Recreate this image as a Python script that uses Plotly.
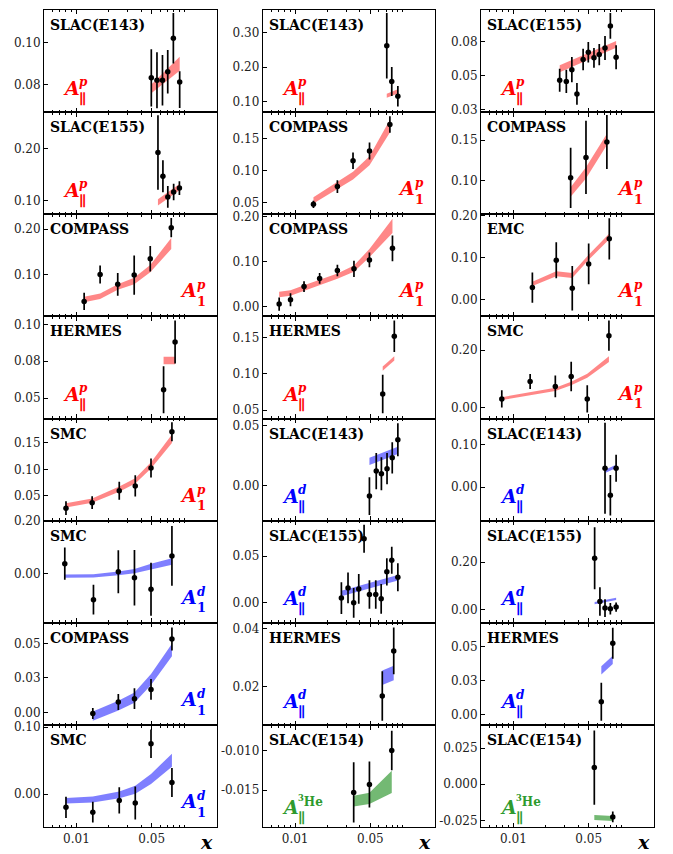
import math
import plotly.graph_objects as go

# ------------------------------------------------------------------ data
# (1,1) SLAC(E143) A_par^p
p1_x = [0.0496, 0.056, 0.063, 0.0705, 0.0795, 0.091]
p1_y = [0.0833, 0.0822, 0.0822, 0.0862, 0.1021, 0.0813]
p1_ep = [0.0136, 0.0133, 0.0120, 0.0103, 0.0120, 0.0052]
p1_em = [0.0136, 0.0133, 0.0120, 0.0103, 0.0120, 0.0123]
p1_band = [0.0781, 0.0805, 0.0828, 0.0850, 0.0874, 0.0900]
p1_bw = [0.0021, 0.0023, 0.0026, 0.0028, 0.0030, 0.0033]

# (1,2) SLAC(E143) A_par^p
p2_x = [0.071, 0.079, 0.09]
p2_y = [0.2625, 0.159, 0.116]
p2_e = [0.095, 0.042, 0.030]
p2_band = [0.1176, 0.123, 0.130]
p2_bw = [0.006, 0.006, 0.006]

# (1,3) SLAC(E155) A_par^p
p3_x = [0.0269, 0.0310, 0.0349, 0.0389, 0.0444, 0.0496, 0.0560, 0.0627, 0.0709, 0.0795, 0.0899]
p3_y = [0.0514, 0.0506, 0.0592, 0.0414, 0.0667, 0.0720, 0.0679, 0.0703, 0.0752, 0.0914, 0.0683]
p3_e = [0.0085, 0.0085, 0.0093, 0.0080, 0.0079, 0.0075, 0.0072, 0.0078, 0.0088, 0.0095, 0.0088]
p3_band = [0.0599, 0.0620, 0.0637, 0.0654, 0.0673, 0.0690, 0.0708, 0.0724, 0.0743, 0.0760, 0.0778]
p3_bw = [0.0025] * 11

# (2,1) SLAC(E155) A_par^p
p4_x = [0.0572, 0.0636, 0.0706, 0.0800, 0.0905]
p4_y = [0.1924, 0.1466, 0.1065, 0.1160, 0.1237]
p4_e = [0.072, 0.031, 0.021, 0.016, 0.0134]
p4_band = [0.096, 0.1028, 0.1095, 0.1176, 0.1255]
p4_bw = [0.006] * 5

# (2,2) COMPASS A_1^p
p5_x = [0.0148, 0.0247, 0.0345, 0.0491, 0.0759]
p5_y = [0.0474, 0.0752, 0.1155, 0.131, 0.1723]
p5_e = [0.0057, 0.010, 0.013, 0.0134, 0.0129]
p5_band = [0.0536, 0.0768, 0.0923, 0.1155, 0.1697]
p5_bw = [0.005, 0.005, 0.006, 0.007, 0.010]

# (2,3) COMPASS A_1^p
p6_x = [0.034, 0.0472, 0.0738]
p6_y = [0.1033, 0.1287, 0.1479]
p6_e = [0.0375, 0.0455, 0.0336]
p6_band = [0.0857, 0.1095, 0.151]
p6_bw = [0.006, 0.007, 0.007]

# (3,1) COMPASS A_1^p
p7_x = [0.0118, 0.0166, 0.0242, 0.0344, 0.0485, 0.076]
p7_y = [0.0407, 0.100, 0.0783, 0.0986, 0.1348, 0.203]
p7_e = [0.019, 0.020, 0.025, 0.043, 0.028, 0.021]
p7_band = [0.045, 0.052, 0.0726, 0.0856, 0.113, 0.168]
p7_bw = [0.006, 0.006, 0.006, 0.007, 0.008, 0.012]

# (3,2) COMPASS A_1^p
p8_x = [0.00711, 0.00906, 0.0121, 0.0169, 0.0247, 0.0352, 0.049, 0.0802]
p8_y = [0.0051, 0.0148, 0.0442, 0.0625, 0.0801, 0.0839, 0.1038, 0.1296]
p8_e = [0.0147, 0.0143, 0.012, 0.012, 0.0129, 0.018, 0.0166, 0.029]
p8_band = [0.0265, 0.030, 0.0412, 0.053, 0.0677, 0.0846, 0.119, 0.180]
p8_bw = [0.006, 0.006, 0.006, 0.006, 0.006, 0.007, 0.009, 0.016]

# (3,3) EMC A_1^p
p9_x = [0.015, 0.025, 0.0352, 0.05, 0.0777]
p9_y = [0.029, 0.094, 0.0273, 0.0854, 0.145]
p9_e = [0.036, 0.043, 0.053, 0.0486, 0.049]
p9_band = [0.038, 0.062, 0.058, 0.101, 0.151]
p9_bw = [0.005, 0.006, 0.006, 0.006, 0.007]

# (4,1) HERMES A_par^p
p10_x = [0.0645, 0.0825]
p10_y = [0.0556, 0.0881]
p10_e = [0.016, 0.0146]
p10_band = [0.0755, 0.0755]
p10_bw = [0.0025, 0.0025]

# (4,2) HERMES A_par^p
p11_x = [0.0651, 0.0834]
p11_y = [0.0722, 0.1518]
p11_e = [0.0266, 0.0216]
p11_band = [0.1072, 0.1213]
p11_bw = [0.003, 0.003]

# (4,3) SMC A_1^p
p12_x = [0.0078, 0.0143, 0.0245, 0.0344, 0.0485, 0.0771]
p12_y = [0.031, 0.0916, 0.0744, 0.1087, 0.031, 0.2504]
p12_e = [0.030, 0.026, 0.038, 0.051, 0.047, 0.0526]
p12_band = [0.032, 0.049, 0.064, 0.0847, 0.111, 0.169]
p12_bw = [0.005, 0.005, 0.006, 0.006, 0.007, 0.010]

# (5,1) SMC A_1^p
p13_x = [0.0080, 0.0140, 0.025, 0.0352, 0.0493, 0.0771]
p13_y = [0.0264, 0.0369, 0.0594, 0.0687, 0.1024, 0.1712]
p13_e = [0.013, 0.012, 0.017, 0.020, 0.018, 0.018]
p13_band = [0.032, 0.0406, 0.0625, 0.078, 0.1075, 0.158]
p13_bw = [0.004, 0.004, 0.005, 0.005, 0.006, 0.008]

# (5,2) SLAC(E143) A_par^d
p14_x = [0.049, 0.0567, 0.0633, 0.0714, 0.0798, 0.090]
p14_y = [-0.0089, 0.0121, 0.0099, 0.0141, 0.0232, 0.0384]
p14_e = [0.0158, 0.0152, 0.0138, 0.0131, 0.0131, 0.0138]
p14_band = [0.0202, 0.0224, 0.0241, 0.0260, 0.0277, 0.0295]
p14_bw = [0.003] * 6

# (5,3) SLAC(E143) A_par^d
p15_x = [0.0709, 0.0795, 0.0899]
p15_y = [0.0445, -0.0194, 0.0445]
p15_e = [0.108, 0.048, 0.032]
p15_band = [0.037, 0.043, 0.049]
p15_bw = [0.004, 0.004, 0.004]

# (6,1) SMC A_1^d
p16_x = [0.0078, 0.0144, 0.0245, 0.0346, 0.0493, 0.0771]
p16_y = [0.0388, -0.097, 0.0085, -0.0145, -0.058, 0.068]
p16_e = [0.061, 0.056, 0.081, 0.105, 0.100, 0.113]
p16_band = [-0.0085, -0.0073, 0.0025, 0.011, 0.028, 0.047]
p16_bw = [0.006, 0.006, 0.007, 0.008, 0.010, 0.012]

# (6,2) SLAC(E155) A_par^d
p17_x = [0.0269, 0.031, 0.035, 0.039, 0.0437, 0.049, 0.0561, 0.063, 0.0711, 0.079, 0.09]
p17_y = [0.005, 0.0159, 0.0, 0.0148, 0.0684, 0.0088, 0.0088, 0.0042, 0.0331, 0.0455, 0.0272]
p17_e = [0.017, 0.0164, 0.0159, 0.0159, 0.015, 0.0153, 0.0153, 0.0159, 0.0146, 0.0145, 0.015]
p17_band = [0.0099, 0.0119, 0.0136, 0.0151, 0.0167, 0.0183, 0.0202, 0.0218, 0.0235, 0.0250, 0.0268]
p17_bw = [0.003] * 11

# (6,3) SLAC(E155) A_par^d
p18_x = [0.0568, 0.0636, 0.0709, 0.0795, 0.0899]
p18_y = [0.2153, 0.0345, 0.007, 0.004, 0.011]
p18_e = [0.13, 0.06, 0.037, 0.024, 0.019]
p18_band = [0.0277, 0.0321, 0.0363, 0.0407, 0.0455]
p18_bw = [0.005] * 5

# (7,1) COMPASS A_1^d
p19_x = [0.0142, 0.0245, 0.0346, 0.0493, 0.0771]
p19_y = [-0.0007, 0.0076, 0.010, 0.0167, 0.0531]
p19_e = [0.0039, 0.0057, 0.0075, 0.0075, 0.0083]
p19_band = [-0.0026, 0.005, 0.0107, 0.0238, 0.0452]
p19_bw = [0.0033, 0.0035, 0.0037, 0.004, 0.0045]

# (7,2) HERMES A_par^d
p20_x = [0.0645, 0.0824]
p20_y = [0.0168, 0.0323]
p20_e = [0.0085, 0.008]
p20_band = [0.0231, 0.0247]
p20_bw = [0.0025, 0.0025]

# (7,3) HERMES A_par^d
p21_x = [0.0655, 0.0837]
p21_y = [0.0096, 0.0524]
p21_e = [0.0139, 0.0114]
p21_band = [0.0326, 0.0403]
p21_bw = [0.003, 0.003]

# (8,1) SMC A_1^d
p22_x = [0.0080, 0.0142, 0.025, 0.0352, 0.0493, 0.0771]
p22_y = [-0.0197, -0.027, -0.0093, -0.0133, 0.0753, 0.0173]
p22_e = [0.0158, 0.0155, 0.0197, 0.0246, 0.0214, 0.0217]
p22_band = [-0.0098, -0.0078, -0.0009, 0.0065, 0.0227, 0.0508]
p22_bw = [0.0042, 0.0045, 0.005, 0.006, 0.0075, 0.0098]

# (8,2) SLAC(E154) A_par^3He
p23_x = [0.035, 0.049, 0.079]
p23_y = [-0.0153, -0.0143, -0.0100]
p23_e = [0.0038, 0.0029, 0.0025]
p23_band = [-0.0164, -0.01605, -0.01396]
p23_bw = [0.00067, 0.0007, 0.0014]

# (8,3) SLAC(E154) A_par^3He
p24_x = [0.0564, 0.0837]
p24_y = [0.0116, -0.0226]
p24_e = [0.0257, 0.0037]
p24_band = [-0.023, -0.0237]
p24_bw = [0.0017, 0.0017]

x_tickvals = [0.01, 0.05]
x_ticktext = ["0.01", "0.05"]
x_minor = [0.006, 0.007, 0.008, 0.009, 0.02, 0.03, 0.04, 0.06, 0.07, 0.08, 0.09, 0.1]

panels = [
    dict(r=1, c=1, title="SLAC(E143)", kind="par", tgt="p", x=p1_x, y=p1_y, ep=p1_ep, em=p1_em, bc=p1_band, bw=p1_bw, yr=[0.067, 0.1156], tv=[0.08, 0.10], tt=["0.08", "0.10"]),
    dict(r=1, c=2, title="SLAC(E143)", kind="par", tgt="p", x=p2_x, y=p2_y, ep=p2_e, em=p2_e, bc=p2_band, bw=p2_bw, yr=[0.070, 0.366], tv=[0.1, 0.2, 0.3], tt=["0.10", "0.20", "0.30"]),
    dict(r=1, c=3, title="SLAC(E155)", kind="par", tgt="p", x=p3_x, y=p3_y, ep=p3_e, em=p3_e, bc=p3_band, bw=p3_bw, yr=[0.028, 0.1031], tv=[0.03, 0.055, 0.08], tt=["0.03", "0.05", "0.08"]),
    dict(r=2, c=1, title="SLAC(E155)", kind="par", tgt="p", x=p4_x, y=p4_y, ep=p4_e, em=p4_e, bc=p4_band, bw=p4_bw, yr=[0.073, 0.2706], tv=[0.1, 0.2], tt=["0.10", "0.20"]),
    dict(r=2, c=2, title="COMPASS", kind="one", tgt="p", x=p5_x, y=p5_y, ep=p5_e, em=p5_e, bc=p5_band, bw=p5_bw, yr=[0.0317, 0.1918], tv=[0.05, 0.10, 0.15], tt=["0.05", "0.10", "0.15"]),
    dict(r=2, c=3, title="COMPASS", kind="one", tgt="p", x=p6_x, y=p6_y, ep=p6_e, em=p6_e, bc=p6_band, bw=p6_bw, yr=[0.058, 0.185], tv=[0.10, 0.15], tt=["0.10", "0.15"]),
    dict(r=3, c=1, title="COMPASS", kind="one", tgt="p", x=p7_x, y=p7_y, ep=p7_e, em=p7_e, bc=p7_band, bw=p7_bw, yr=[0.0076, 0.2324], tv=[0.1, 0.2], tt=["0.10", "0.20"]),
    dict(r=3, c=2, title="COMPASS", kind="one", tgt="p", x=p8_x, y=p8_y, ep=p8_e, em=p8_e, bc=p8_band, bw=p8_bw, yr=[-0.0225, 0.2057], tv=[0, 0.1, 0.2], tt=["0.00", "0.10", "0.20"]),
    dict(r=3, c=3, title="EMC", kind="one", tgt="p", x=p9_x, y=p9_y, ep=p9_e, em=p9_e, bc=p9_band, bw=p9_bw, yr=[-0.0398, 0.2035], tv=[0, 0.1, 0.2], tt=["0.00", "0.10", "0.20"]),
    dict(r=4, c=1, title="HERMES", kind="par", tgt="p", x=p10_x, y=p10_y, ep=p10_e, em=p10_e, bc=p10_band, bw=p10_bw, yr=[0.036, 0.1054], tv=[0.05, 0.075, 0.10], tt=["0.05", "0.08", "0.10"]),
    dict(r=4, c=2, title="HERMES", kind="par", tgt="p", x=p11_x, y=p11_y, ep=p11_e, em=p11_e, bc=p11_band, bw=p11_bw, yr=[0.0383, 0.179], tv=[0.05, 0.10, 0.15], tt=["0.05", "0.10", "0.15"]),
    dict(r=4, c=3, title="SMC", kind="one", tgt="p", x=p12_x, y=p12_y, ep=p12_e, em=p12_e, bc=p12_band, bw=p12_bw, yr=[-0.0374, 0.317], tv=[0, 0.2], tt=["0.00", "0.20"]),
    dict(r=5, c=1, title="SMC", kind="one", tgt="p", x=p13_x, y=p13_y, ep=p13_e, em=p13_e, bc=p13_band, bw=p13_bw, yr=[0.0026, 0.196], tv=[0.05, 0.10, 0.15], tt=["0.05", "0.10", "0.15"]),
    dict(r=5, c=2, title="SLAC(E143)", kind="par", tgt="d", x=p14_x, y=p14_y, ep=p14_e, em=p14_e, bc=p14_band, bw=p14_bw, yr=[-0.0296, 0.0561], tv=[0, 0.05], tt=["0.00", "0.05"]),
    dict(r=5, c=3, title="SLAC(E143)", kind="par", tgt="d", x=p15_x, y=p15_y, ep=p15_e, em=p15_e, bc=p15_band, bw=p15_bw, yr=[-0.080, 0.162], tv=[0, 0.1], tt=["0.00", "0.10"]),
    dict(r=6, c=1, title="SMC", kind="one", tgt="d", x=p16_x, y=p16_y, ep=p16_e, em=p16_e, bc=p16_band, bw=p16_bw, yr=[-0.185, 0.2005], tv=[0, 0.2], tt=["0.00", "0.20"]),
    dict(r=6, c=2, title="SLAC(E155)", kind="par", tgt="d", x=p17_x, y=p17_y, ep=p17_e, em=p17_e, bc=p17_band, bw=p17_bw, yr=[-0.0216, 0.0877], tv=[0, 0.05], tt=["0.00", "0.05"]),
    dict(r=6, c=3, title="SLAC(E155)", kind="par", tgt="d", x=p18_x, y=p18_y, ep=p18_e, em=p18_e, bc=p18_band, bw=p18_bw, yr=[-0.0555, 0.3727], tv=[0, 0.2], tt=["0.00", "0.20"]),
    dict(r=7, c=1, title="COMPASS", kind="one", tgt="d", x=p19_x, y=p19_y, ep=p19_e, em=p19_e, bc=p19_band, bw=p19_bw, yr=[-0.0091, 0.0647], tv=[0, 0.025, 0.05], tt=["0.00", "0.03", "0.05"]),
    dict(r=7, c=2, title="HERMES", kind="par", tgt="d", x=p20_x, y=p20_y, ep=p20_e, em=p20_e, bc=p20_band, bw=p20_bw, yr=[0.0068, 0.0419], tv=[0.02, 0.04], tt=["0.02", "0.04"]),
    dict(r=7, c=3, title="HERMES", kind="par", tgt="d", x=p21_x, y=p21_y, ep=p21_e, em=p21_e, bc=p21_band, bw=p21_bw, yr=[-0.0076, 0.0673], tv=[0, 0.025, 0.05], tt=["0.00", "0.03", "0.05"]),
    dict(r=8, c=1, title="SMC", kind="one", tgt="d", x=p22_x, y=p22_y, ep=p22_e, em=p22_e, bc=p22_band, bw=p22_bw, yr=[-0.0495, 0.1032], tv=[0, 0.1], tt=["0.00", "0.10"]),
    dict(r=8, c=2, title="SLAC(E154)", kind="par", tgt="He", x=p23_x, y=p23_y, ep=p23_e, em=p23_e, bc=p23_band, bw=p23_bw, yr=[-0.0197, -0.0068], tv=[-0.015, -0.010], tt=["-0.015", "-0.010"]),
    dict(r=8, c=3, title="SLAC(E154)", kind="par", tgt="He", x=p24_x, y=p24_y, ep=p24_e, em=p24_e, bc=p24_band, bw=p24_bw, yr=[-0.0298, 0.041], tv=[-0.025, 0, 0.025], tt=["-0.025", "0.000", "0.025"]),
]

# ------------------------------------------------------------------ style
W, H = 673, 854
COL_PX = [(44.0, 216.5), (262.7, 435.2), (481.0, 653.5)]
ROW_TOP, ROW_H = 3.0, 103.5
XR = [math.log10(0.005), math.log10(0.2)]
FONT = "DejaVu Serif"
LABEL_COL = {"p": "#ff0000", "d": "#0000ff", "He": "#2e9a2e"}
BAND_COL = {"p": "rgba(255,0,0,0.47)", "d": "rgba(0,0,255,0.5)", "He": "rgba(0,128,0,0.55)"}
SUP_TXT = {"p": "<b><i>p</i></b>", "d": "<b><i>d</i></b>", "He": "<b><sup>3</sup>He</b>"}

fig = go.Figure()
layout = dict(width=W, height=H, margin=dict(l=0, r=0, t=0, b=0),
              paper_bgcolor="white", plot_bgcolor="white", showlegend=False)
annotations = []

for p in panels:
    r, c = p["r"], p["c"]
    n = (r - 1) * 3 + c
    xa = "x" if n == 1 else f"x{n}"
    ya = "y" if n == 1 else f"y{n}"
    xl, xr = COL_PX[c - 1]
    top = ROW_TOP + (r - 1) * ROW_H
    bot = top + ROW_H
    layout["xaxis" if n == 1 else f"xaxis{n}"] = dict(
        domain=[xl / W, xr / W], anchor=ya, type="log", range=XR,
        showline=True, linecolor="black", linewidth=1, mirror="allticks",
        ticks="inside", ticklen=4.5, tickwidth=1, tickcolor="black",
        tickmode="array", tickvals=x_tickvals, ticktext=x_ticktext,
        showticklabels=(r == 8), tickfont=dict(family=FONT, size=12, color="#222"),
        showgrid=False, zeroline=False,
        minor=dict(ticks="inside", ticklen=2.5, tickwidth=0.8, tickcolor="black",
                   tickmode="array", tickvals=x_minor, showgrid=False),
    )
    layout["yaxis" if n == 1 else f"yaxis{n}"] = dict(
        domain=[1 - bot / H, 1 - top / H], anchor=xa, range=p["yr"],
        showline=True, linecolor="black", linewidth=1, mirror=True,
        ticks="inside", ticklen=4, tickwidth=1, tickcolor="black",
        tickmode="array", tickvals=p["tv"], ticktext=p["tt"],
        tickfont=dict(family=FONT, size=12, color="#222"),
        showgrid=False, zeroline=False,
    )
    xs = p["x"]
    up = [cc + w for cc, w in zip(p["bc"], p["bw"])]
    lo = [cc - w for cc, w in zip(p["bc"], p["bw"])]
    fig.add_trace(go.Scatter(x=xs + xs[::-1], y=up + lo[::-1], fill="toself",
                             fillcolor=BAND_COL[p["tgt"]], line=dict(width=0),
                             mode="lines", xaxis=xa, yaxis=ya, hoverinfo="skip"))
    fig.add_trace(go.Scatter(x=xs, y=p["y"], mode="markers",
                             marker=dict(size=5.5, color="black"),
                             error_y=dict(type="data", array=p["ep"], arrayminus=p["em"],
                                          symmetric=False, thickness=1.7, width=0, color="black"),
                             xaxis=xa, yaxis=ya))
    xd, yd = f"{xa} domain", f"{ya} domain"
    # experiment title
    annotations.append(dict(text=f"<b>{p['title']}</b>", xref=xd, yref=yd, x=0, y=1,
                            xanchor="left", yanchor="top", xshift=4, yshift=-5, showarrow=False,
                            font=dict(family=FONT, size=14, color="black")))
    col = LABEL_COL[p["tgt"]]
    if p["kind"] == "par":
        ay = 20.5 if p["tgt"] == "He" else 24.5
        annotations.append(dict(text="<b><i>A</i></b>", xref=xd, yref=yd, x=0, y=0,
                                xanchor="left", yanchor="middle", xshift=17, yshift=ay,
                                showarrow=False, font=dict(family=FONT, size=19, color=col)))
        annotations.append(dict(text=SUP_TXT[p["tgt"]], xref=xd, yref=yd, x=0, y=0,
                                xanchor="left", yanchor="middle", xshift=33, yshift=ay + 6,
                                showarrow=False, font=dict(family=FONT, size=12, color=col)))
        annotations.append(dict(text="<b>∥</b>", xref=xd, yref=yd, x=0, y=0,
                                xanchor="left", yanchor="middle", xshift=33, yshift=ay - 11,
                                showarrow=False, font=dict(family=FONT, size=14, color=col)))
    else:
        annotations.append(dict(text="<b><i>A</i></b>", xref=xd, yref=yd, x=1, y=0,
                                xanchor="right", yanchor="middle", xshift=-18, yshift=26,
                                showarrow=False, font=dict(family=FONT, size=19, color=col)))
        annotations.append(dict(text=SUP_TXT[p["tgt"]], xref=xd, yref=yd, x=1, y=0,
                                xanchor="left", yanchor="middle", xshift=-22, yshift=31,
                                showarrow=False, font=dict(family=FONT, size=12, color=col)))
        annotations.append(dict(text="<b>1</b>", xref=xd, yref=yd, x=1, y=0,
                                xanchor="left", yanchor="middle", xshift=-22, yshift=15,
                                showarrow=False, font=dict(family=FONT, size=13, color=col)))
    if r == 8:
        annotations.append(dict(text="<b><i>x</i></b>", xref=xd, yref=yd, x=1, y=0,
                                xanchor="right", yanchor="top", xshift=-2, yshift=-2,
                                showarrow=False, font=dict(family=FONT, size=19, color="black")))

layout["annotations"] = annotations
fig.update_layout(**layout)
fig.write_html("out.html")
